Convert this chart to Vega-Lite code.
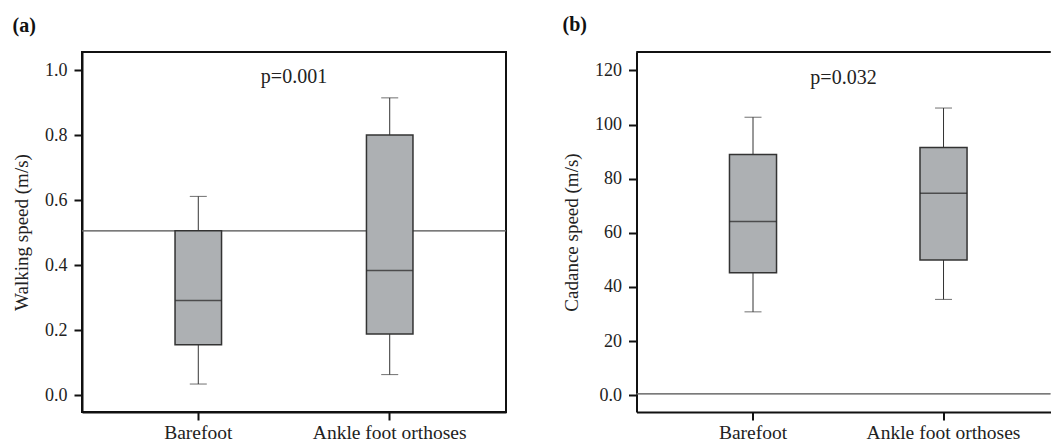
{
  "$schema": "https://vega.github.io/schema/vega-lite/v6.json",
  "padding": {"left": 11, "top": 15, "right": 0, "bottom": 0},
  "background": "white",
  "datasets": {
    "walk": [
      {"cond": "Barefoot", "min": 0.035, "q1": 0.156, "median": 0.292, "q3": 0.506, "max": 0.612},
      {"cond": "Ankle foot orthoses", "min": 0.064, "q1": 0.189, "median": 0.384, "q3": 0.801, "max": 0.915}
    ],
    "cad": [
      {"cond": "Barefoot", "min": 30.8, "q1": 45.2, "median": 64.2, "q3": 88.9, "max": 102.7},
      {"cond": "Ankle foot orthoses", "min": 35.4, "q1": 50.0, "median": 74.6, "q3": 91.5, "max": 106.1}
    ]
  },
  "spacing": 54.5,
  "hconcat": [
    {
      "title": "(a)",
      "width": 424,
      "height": 360,
      "view": {"stroke": "#111", "strokeWidth": 2},
      "data": {"name": "walk"},
      "encoding": {
        "x": {"field": "cond", "type": "nominal", "sort": ["Barefoot", "Ankle foot orthoses"],
              "scale": {"paddingInner": 0.757, "paddingOuter": 0.486}, "axis": {"title": null}}
      },
      "layer": [
        {"mark": {"type": "rule", "color": "#666", "strokeWidth": 1},
         "encoding": {"x": null, "y": {"datum": 0.506, "type": "quantitative",
           "scale": {"domain": [-0.051, 1.056], "nice": false, "zero": false},
           "axis": {"title": "Walking speed (m/s)", "values": [0, 0.2, 0.4, 0.6, 0.8, 1.0], "format": ".1f", "titlePadding": 13, "labelPadding": 7}}}},
        {"mark": {"type": "rule", "color": "#333", "strokeWidth": 1},
         "encoding": {"y": {"field": "min", "type": "quantitative"}, "y2": {"field": "max"}}},
        {"mark": {"type": "bar", "fill": "#adb0b3", "stroke": "#333", "strokeWidth": 1.5},
         "encoding": {"y": {"field": "q1", "type": "quantitative"}, "y2": {"field": "q3"}}},
        {"mark": {"type": "tick", "color": "#222", "size": 46, "thickness": 1.5},
         "encoding": {"y": {"field": "median", "type": "quantitative"}}},
        {"mark": {"type": "tick", "color": "#333", "size": 17, "thickness": 1},
         "encoding": {"y": {"field": "min", "type": "quantitative"}}},
        {"mark": {"type": "tick", "color": "#333", "size": 17, "thickness": 1},
         "encoding": {"y": {"field": "max", "type": "quantitative"}}},
        {"data": {"values": [{"label": "p=0.001"}]},
         "mark": {"type": "text", "font": "Liberation Serif", "fontSize": 20, "color": "#222", "baseline": "alphabetic", "align": "center"},
         "encoding": {"x": null, "text": {"field": "label"}, "y": {"datum": 0.962, "type": "quantitative"}}}
      ]
    },
    {
      "title": "(b)",
      "width": 414,
      "height": 360,
      "view": {"stroke": null},
      "data": {"name": "cad"},
      "encoding": {
        "x": {"field": "cond", "type": "nominal", "sort": ["Barefoot", "Ankle foot orthoses"],
              "scale": {"paddingInner": 0.753, "paddingOuter": 0.463, "align": 0.527}, "axis": {"title": null}}
      },
      "layer": [
        {"mark": {"type": "rule", "color": "#666", "strokeWidth": 1},
         "encoding": {"x": null, "y": {"datum": 0.5, "type": "quantitative",
           "scale": {"domain": [-6.2, 126.8], "nice": false, "zero": false},
           "axis": {"title": "Cadance speed (m/s)", "values": [0, 20, 40, 60, 80, 100, 120], "labelExpr": "datum.value == 0 ? '0.0' : datum.label", "titlePadding": 13, "labelPadding": 7}}}},
        {"mark": {"type": "rule", "color": "#111", "strokeWidth": 2},
         "encoding": {"x": null, "y": {"datum": 126.8, "type": "quantitative"}}},
        {"mark": {"type": "rule", "color": "#333", "strokeWidth": 1},
         "encoding": {"y": {"field": "min", "type": "quantitative"}, "y2": {"field": "max"}}},
        {"mark": {"type": "bar", "fill": "#adb0b3", "stroke": "#333", "strokeWidth": 1.5},
         "encoding": {"y": {"field": "q1", "type": "quantitative"}, "y2": {"field": "q3"}}},
        {"mark": {"type": "tick", "color": "#222", "size": 47, "thickness": 1.5},
         "encoding": {"y": {"field": "median", "type": "quantitative"}}},
        {"mark": {"type": "tick", "color": "#333", "size": 17, "thickness": 1},
         "encoding": {"y": {"field": "min", "type": "quantitative"}}},
        {"mark": {"type": "tick", "color": "#333", "size": 17, "thickness": 1},
         "encoding": {"y": {"field": "max", "type": "quantitative"}}},
        {"data": {"values": [{"label": "p=0.032"}]},
         "mark": {"type": "text", "font": "Liberation Serif", "fontSize": 20, "color": "#222", "baseline": "alphabetic", "align": "center"},
         "encoding": {"x": null, "text": {"field": "label"}, "y": {"datum": 115.1, "type": "quantitative"}}}
      ]
    }
  ],
  "config": {
    "font": "Liberation Serif",
    "axis": {
      "labelFont": "Liberation Serif", "titleFont": "Liberation Serif",
      "labelColor": "#222", "titleColor": "#222",
      "tickColor": "#111", "tickWidth": 2, "tickSize": 8,
      "domainColor": "#111", "domainWidth": 2,
      "grid": false, "labelFontSize": 18, "titleFontSize": 19, "titleFontWeight": "normal"
    },
    "axisX": {"labelFontSize": 19.5, "labelAngle": 0, "labelPadding": 3},
    "title": {"font": "Liberation Serif", "fontSize": 20, "fontWeight": "bold", "anchor": "start", "frame": "bounds", "color": "#111", "offset": 16}
  }
}
